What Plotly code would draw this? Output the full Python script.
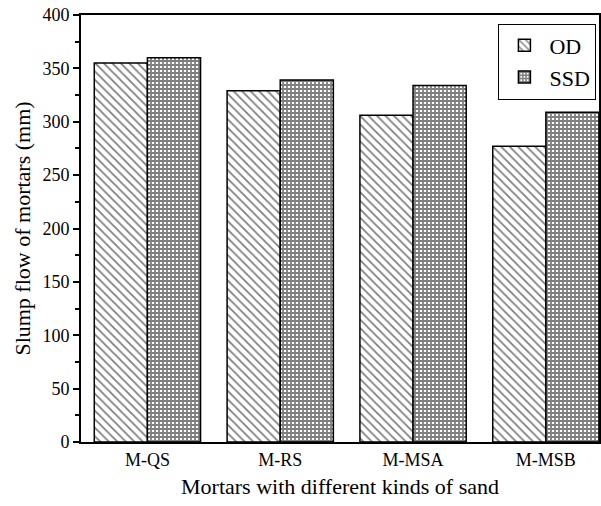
import plotly.graph_objects as go

categories = ["M-QS", "M-RS", "M-MSA", "M-MSB"]
od_values = [355, 329, 306, 277]
ssd_values = [360, 339, 334, 309]
y_ticks = [0, 50, 100, 150, 200, 250, 300, 350, 400]

FONT = "Liberation Serif"

fig = go.Figure()
fig.add_trace(go.Bar(
    name="OD", x=categories, y=od_values,
    marker=dict(color="white", line=dict(color="black", width=1.5),
                pattern=dict(shape="\\", size=6, solidity=0.3, fgcolor="black", bgcolor="white")),
))
fig.add_trace(go.Bar(
    name="SSD", x=categories, y=ssd_values,
    marker=dict(color="white", line=dict(color="black", width=1.5),
                pattern=dict(shape="+", size=4, solidity=0.7, fgcolor="black", bgcolor="white")),
))

fig.update_layout(
    width=601, height=506,
    margin=dict(l=81, r=2, t=15, b=64, autoexpand=False),
    paper_bgcolor="white", plot_bgcolor="white",
    barmode="group", bargap=0.2, bargroupgap=0,
    font=dict(family=FONT, color="black", size=18),
    legend=dict(x=0.995, y=0.98, xanchor="right", yanchor="top",
                bordercolor="black", borderwidth=1, font=dict(size=22, family=FONT),
                bgcolor="white", tracegroupgap=0, itemwidth=40),
    showlegend=True,
)
fig.update_xaxes(
    range=[-0.5, 3.4], showline=True, linecolor="black", linewidth=2, mirror=True,
    ticks="", tickfont=dict(size=18, family=FONT), automargin=False,
    title=dict(text="Mortars with different kinds of sand", font=dict(size=22, family=FONT), standoff=10),
    showgrid=False,
)
fig.update_yaxes(
    range=[0, 400], tickvals=y_ticks, showline=True, linecolor="black", linewidth=2, mirror=True,
    ticks="outside", ticklen=6, tickwidth=1.5, tickcolor="black",
    minor=dict(dtick=25, ticks="outside", ticklen=4, tickwidth=1.5, tickcolor="black"),
    tickfont=dict(size=18, family=FONT), automargin=False, ticklabeloverflow="allow",
    title=dict(text="Slump flow of mortars (mm)", font=dict(size=22, family=FONT), standoff=6),
    showgrid=False, zeroline=False,
)

# remove the browser's default body margin so the 601x506 figure fills the window
fig.write_html("out.html", config={"displayModeBar": False},
               post_script="document.body.style.margin='0';")
